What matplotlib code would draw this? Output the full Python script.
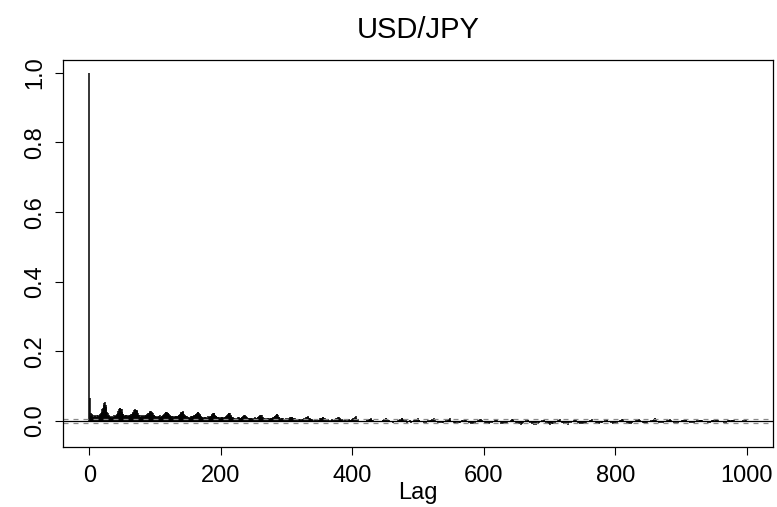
import numpy as np
import matplotlib
matplotlib.use("Agg")
import matplotlib.pyplot as plt

title = "USD/JPY"
x_label = "Lag"
x_ticks = [0, 200, 400, 600, 800, 1000]
y_ticks = [0.0, 0.2, 0.4, 0.6, 0.8, 1.0]
conf_limit = 0.005

# ACF values (in thousandths), lag 0 .. 1000, rows of 24 lags
acf_lag0 = [1000]
acf_rows = [
    [66, 24, 15, 19, 12, 16, 11, 17, 13, 10, 16, 12, 18, 11, 14, 19, 16, 24, 27, 34, 38, 46, 50, 54],
    [47, 40, 27, 22, 14, 18, 11, 15, 12, 9, 14, 11, 16, 10, 13, 17, 15, 21, 24, 29, 33, 36, 38, 35],
    [33, 27, 21, 19, 15, 18, 13, 17, 12, 16, 14, 18, 13, 16, 15, 20, 19, 24, 26, 30, 32, 34, 32, 30],
    [28, 23, 18, 17, 12, 16, 11, 15, 12, 16, 13, 17, 12, 15, 16, 19, 18, 22, 24, 27, 28, 29, 26, 24],
    [22, 18, 16, 15, 11, 14, 10, 14, 11, 15, 12, 16, 11, 15, 14, 18, 17, 21, 22, 25, 26, 27, 24, 22],
    [20, 16, 14, 14, 10, 13, 9, 13, 10, 14, 11, 15, 11, 14, 15, 18, 17, 21, 23, 26, 27, 28, 25, 21],
    [18, 14, 13, 13, 9, 12, 8, 12, 9, 13, 10, 14, 10, 13, 13, 16, 16, 19, 21, 24, 26, 27, 23, 19],
    [16, 13, 12, 12, 8, 11, 7, 11, 8, 12, 9, 13, 9, 12, 12, 15, 15, 18, 19, 22, 23, 22, 18, 15],
    [13, 11, 11, 10, 7, 10, 6, 10, 7, 11, 8, 12, 8, 11, 11, 14, 14, 18, 20, 22, 24, 22, 17, 13],
    [11, 9, 10, 8, 6, 9, 5, 9, 6, 10, 7, 11, 7, 9, 9, 11, 12, 13, 14, 16, 17, 15, 12, 10],
    [9, 7, 9, 7, 5, 8, 4, 8, 5, 9, 6, 10, 7, 9, 9, 11, 12, 14, 15, 17, 18, 16, 12, 10],
    [8, 6, 8, 6, 4, 7, 3, 7, 5, 8, 6, 9, 7, 8, 8, 10, 11, 13, 14, 17, 19, 21, 17, 12],
    [11, 6, 9, 4, 7, 3, 8, 4, 6, 2, 7, 3, 6, 4, 8, 5, 10, 7, 11, 12, 10, 8, 5, 7],
    [7, 3, 6, 2, 5, 1, 6, 2, 5, 1, 6, 3, 5, 5, 8, 6, 10, 8, 12, 14, 11, 9, 6, 7],
    [6, 2, 5, 1, 4, 0, 5, 2, 4, 0, 5, 2, 4, 4, 7, 5, 9, 7, 10, 11, 9, 7, 4, 5],
    [5, 1, 5, 0, 4, -1, 4, 1, 5, 0, 4, 2, 4, 4, 7, 5, 9, 7, 10, 11, 9, 6, 4, 5],
    [4, 0, 4, 0, 3, -1, 4, 0, 4, 1, 5, 2, 4, 4, 6, 4, 8, 6, 9, 11, 14, 8, 4, 5],
    [1, -2, 1, -3, 0, -4, 1, -2, 1, -1, 1, -1, 1, 2, 3, 2, 5, 4, 6, 8, 6, 4, 1, 2],
    [0, -3, 1, -3, 0, -4, 0, -2, 1, -2, 1, -1, 1, 2, 3, 2, 5, 4, 7, 8, 5, 3, 0, 2],
    [0, -3, 0, -4, -1, -5, 0, -3, 1, -2, 0, -2, 1, 2, 3, 2, 5, 4, 7, 9, 6, 3, 0, 1],
    [2, -3, -1, -5, 1, -4, -2, 2, -3, -6, 1, -2, 0, 3, -1, 4, 2, 6, 3, 8, 4, 2, -1, 1],
    [-1, -4, 0, -3, -6, 1, -2, -5, -1, -4, 2, -3, 0, 2, -1, 4, 1, 6, 4, 9, 5, 2, -1, 0],
    [-2, -5, 0, -4, -7, -1, -3, -6, 0, -5, -2, -4, 1, -1, 3, 0, 4, 2, 6, 7, 3, 0, -2, 1],
    [-3, -6, -1, -5, -8, -2, -4, -7, -1, -6, -3, -5, 0, -2, 2, -1, 4, 1, 5, 6, 2, -1, -3, 0],
    [-3, -7, -2, -5, -8, -3, -6, -9, -2, -5, -1, -4, 0, -2, 2, -1, 3, 1, 5, 6, 2, -1, -3, -1],
    [-4, -7, -2, -6, -9, -3, -5, -8, -2, -7, -3, -5, -1, -3, 1, -2, 3, 0, 4, 5, 1, -2, -4, -1],
    [-4, -8, -3, -6, -10, -4, -6, -9, -3, -7, -2, -5, -1, -3, 1, -1, 3, 1, 5, 6, 2, -1, -3, -2],
    [-5, -8, -3, -7, -10, -4, -7, -11, -4, -8, -3, -6, -2, -4, 0, -2, 2, 0, 3, 4, 0, -2, -5, -2],
    [-5, -9, -4, -7, -11, -5, -8, -12, -4, -8, -3, -6, -2, -4, 0, -2, 2, 0, 3, 4, 0, -3, -5, -3],
    [-6, -9, -4, -8, -11, -5, -7, -10, -4, -8, -3, -7, -2, -4, 0, -1, 2, 1, 4, 5, 1, -2, -5, -2],
    [-5, -9, -3, -7, -10, -4, -8, -11, -3, -7, -2, -6, -1, -3, 1, -1, 2, 0, 3, 4, 0, -3, -5, -2],
    [-5, -8, -3, -7, -10, -4, -7, -9, -3, -6, -2, -5, -1, -3, 1, 0, 3, 1, 4, 5, 1, -2, -4, -2],
    [-4, -8, -2, -6, -9, -3, -7, -10, -2, -6, -1, -5, 0, -2, 1, -1, 3, 1, 4, 4, 0, -2, -4, -1],
    [-4, -7, -2, -6, -8, -3, -6, -9, -2, -5, -1, -4, 0, -2, 2, 0, 3, 1, 5, 5, 1, -1, -3, -1],
    [-3, -7, -1, -5, -8, -2, -5, -8, -1, -5, 0, -4, 1, -1, 2, 0, 4, 2, 6, 6, 2, 0, -2, 0],
    [-3, -6, -1, -5, -7, -2, -5, -7, -1, -4, 0, -3, 1, 0, 3, 1, 4, 2, 6, 7, 9, 4, 0, 1],
    [-2, -6, -1, -4, -7, -1, -4, -7, 0, -4, 1, -3, 1, -1, 3, 1, 4, 2, 5, 4, 2, 0, -2, 0],
    [-2, -5, 0, -4, -6, -1, -4, -6, 0, -3, 1, -2, 2, 0, 3, 1, 4, 2, 5, 4, 1, -1, -3, 0],
    [-2, -5, 0, -3, -6, -1, -3, -6, 1, -3, 1, -2, 2, 0, 3, 1, 4, 2, 4, 3, 1, -1, -3, -1],
    [-2, -4, 1, -3, -5, 0, -3, -5, 1, -2, 2, -1, 2, 0, 3, 1, 4, 2, 4, 3, 1, -1, -2, 0],
    [-1, -4, 1, -3, -5, 0, -2, -5, 1, -2, 2, -1, 2, 0, 3, 1, 4, 2, 4, 3, 1, -1, -2, 0],
    [-1, -4, 1, -2, -4, 0, -2, -4, 1, -1, 2, -1, 2, 0, 3, 1],
]

acf_values = np.array(acf_lag0 + [v for row in acf_rows for v in row], dtype=float) / 1000.0
lags = np.arange(len(acf_values))

plt.rcParams['font.family'] = ['Liberation Sans', 'DejaVu Sans']
tick_fs = 17
title_fs = 21

W, H = 777, 507
fig = plt.figure(figsize=(W / 100, H / 100), dpi=100)
ax = fig.add_axes([63 / W, 1 - 447 / H, 710 / W, 387 / H])

ax.vlines(lags, 0, acf_values, color='black', linewidth=1.1)
ax.axhline(0, color='black', linewidth=0.9)
ax.axhline(conf_limit, color='#8a8a8a', linewidth=0.9, linestyle=(0, (4, 4)))
ax.axhline(-conf_limit, color='#8a8a8a', linewidth=0.9, linestyle=(0, (4, 4)))

ax.set_xlim(-40, 1040)
ax.set_ylim(-0.075, 1.037)
ax.set_xticks(x_ticks)
ax.set_xticklabels([str(t) for t in x_ticks])
ax.set_yticks(y_ticks)
ax.set_yticklabels([f"{t:.1f}" for t in y_ticks], rotation=90, va='center')

ax.tick_params(axis='both', direction='out', length=6, width=0.8, labelsize=tick_fs, color='black')
ax.tick_params(axis='x', pad=7)
ax.tick_params(axis='y', pad=6)
for s in ax.spines.values():
    s.set_linewidth(0.9)
    s.set_color('black')

ax.set_xlabel(x_label, fontsize=tick_fs, labelpad=-4)
fig.text(0.5 * (63 + 773) / W, 1 - 30 / H, title, ha='center', va='center', fontsize=title_fs)

fig.savefig("out.png", dpi=100)
